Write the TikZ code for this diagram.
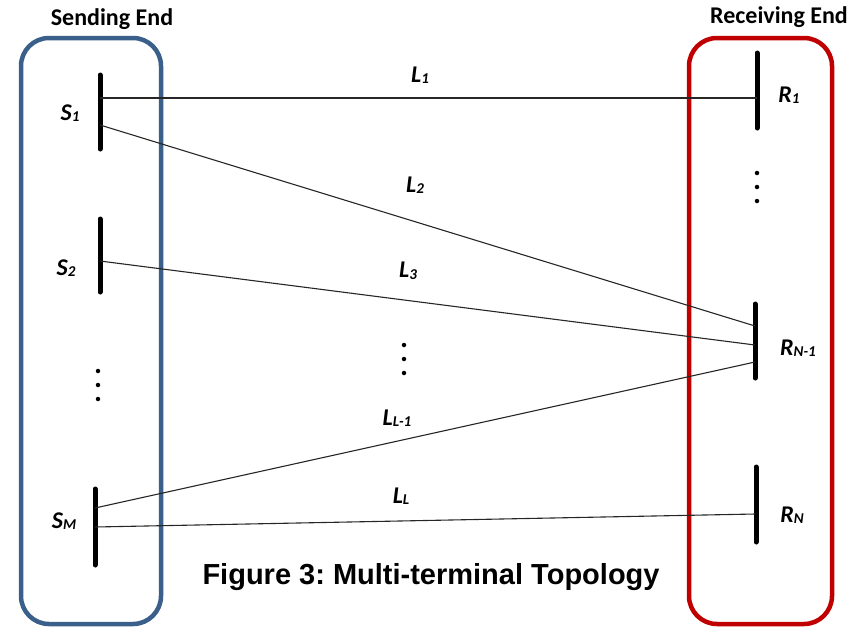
\documentclass[tikz,border=0pt]{standalone}
\usepackage{fontspec}
\setmainfont{Carlito}
\newfontfamily\capfont{Liberation Sans}
\definecolor{sendblue}{RGB}{58,95,138}
\definecolor{recvred}{RGB}{192,0,0}
\frenchspacing
\newcommand{\subx}[1]{\raisebox{-1.5pt}{\fontsize{15}{15}\selectfont #1}}
\begin{document}
\begin{tikzpicture}[x=1pt,y=-1pt,
  endbox/.style={line width=4.5pt,rounded corners=28pt},
  busbar/.style={line width=5pt,line cap=round},
  conn/.style={line width=1.1pt,black!85},
  title/.style={font=\fontsize{24}{26}\selectfont\bfseries},
  lbl/.style={font=\fontsize{24}{26}\selectfont\bfseries\itshape},
  dotm/.style={circle,fill=black,inner sep=0pt,minimum size=4.5pt}]
\useasboundingbox (0,0) rectangle (861,627);
% boxes
\draw[endbox,sendblue] (21,38) rectangle (161,624);
\draw[endbox,recvred] (689,38) rectangle (832,624);
\node[title] (tsend) at (112,19) {Sending End};
\node[title] (trecv) at (779,17) {Receiving End};
% bus bars
\coordinate (s1t) at (100,75); \coordinate (s1b) at (100,149);
\coordinate (s2t) at (100,219); \coordinate (s2b) at (100,292);
\coordinate (smt) at (95,489); \coordinate (smb) at (95,565);
\coordinate (r1t) at (757,53); \coordinate (r1b) at (757,128);
\coordinate (rnmt) at (755,304); \coordinate (rnmb) at (755,378);
\coordinate (rnt) at (756,467); \coordinate (rnb) at (756,542);
\draw[busbar] (s1t) -- (s1b);
\draw[busbar] (s2t) -- (s2b);
\draw[busbar] (smt) -- (smb);
\draw[busbar] (r1t) -- (r1b);
\draw[busbar] (rnmt) -- (rnmb);
\draw[busbar] (rnt) -- (rnb);
% terminal labels
\node[lbl] (ls1) at (70,113) {S\subx{1}};
\node[lbl] (ls2) at (66,268) {S\subx{2}};
\node[lbl] (lsm) at (64,521) {S\subx{M}};
\node[lbl] (lr1) at (789,95) {R\subx{1}};
\node[lbl] (lrnm) at (798,348) {R\subx{N-1}};
\node[lbl] (lrn) at (792,515) {R\subx{N}};
% connection points
\coordinate (a1) at (100,98); \coordinate (b1) at (757,98);
\coordinate (a2) at (100,125); \coordinate (b2) at (755,326);
\coordinate (a3) at (100,261); \coordinate (b3) at (755,345);
\coordinate (a4) at (95,508); \coordinate (b4) at (755,362);
\coordinate (a5) at (95,527); \coordinate (b5) at (755,514);
\draw[conn] (a1) -- (b1);
\draw[conn] (a2) -- (b2);
\draw[conn] (a3) -- (b3);
\draw[conn] (a4) -- (b4);
\draw[conn] (a5) -- (b5);
% line labels
\node[lbl] (l1) at (420,75) {L\subx{1}};
\node[lbl] (l2) at (415,185) {L\subx{2}};
\node[lbl] (l3) at (408,271) {L\subx{3}};
\node[lbl] (l4) at (397,418) {L\subx{L-1}};
\node[lbl] (l5) at (401,496) {L\subx{L}};
% dots
\foreach \i/\y in {1/371,2/385,3/399} \node[dotm] (dl\i) at (98,\y) {};
\foreach \i/\y in {1/345,2/359,3/373} \node[dotm] (dm\i) at (404,\y) {};
\foreach \i/\y in {1/173,2/187,3/201} \node[dotm] (dr\i) at (757,\y) {};
% caption
\node[font=\capfont\fontsize{29}{31}\selectfont\bfseries] (cap) at (431,577) {Figure 3: Multi-terminal Topology};
\end{tikzpicture}
\end{document}
